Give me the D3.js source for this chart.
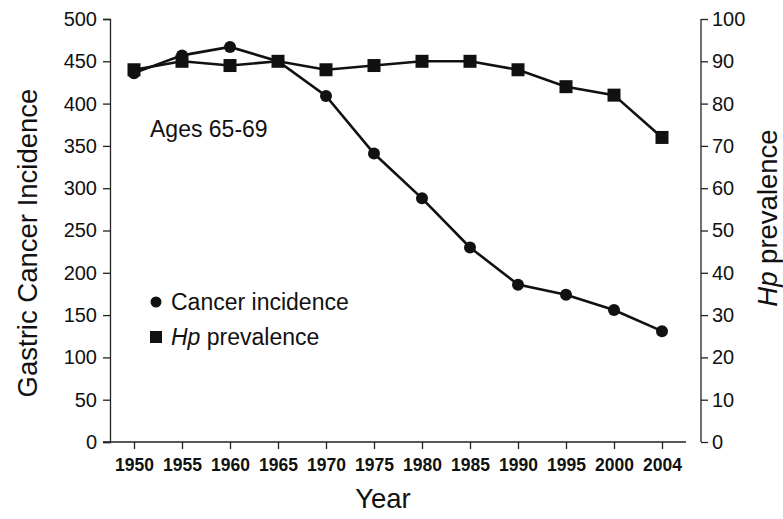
<!DOCTYPE html>
<html>
<head>
<meta charset="utf-8">
<script src="https://cdn.jsdelivr.net/npm/d3@7"></script>
<style>
  body { margin: 0; background: #fff; }
  svg { font-family: "Liberation Sans", Arial, sans-serif; }
  .domain, .tick line { stroke: #222; stroke-width: 1.3; }
</style>
</head>
<body>
<div id="chart"></div>
<script>
// data
var years = ["1950","1955","1960","1965","1970","1975","1980","1985","1990","1995","2000","2004"];
var incidence = [436, 457, 467, 450, 409, 341, 288, 230, 186, 174, 156, 131];
var hpPrev = [88, 90, 89, 90, 88, 89, 90, 90, 88, 84, 82, 72];
var leftTicks = d3.range(0, 501, 50);
var rightTicks = d3.range(0, 101, 10);

var W = 783, H = 519;
var svg = d3.select("#chart").append("svg")
    .attr("width", W).attr("height", H);

var x = d3.scalePoint().domain(years).range([110, 686]).padding(0.5);
var yL = d3.scaleLinear().domain([0, 500]).range([442, 19]);
var yR = d3.scaleLinear().domain([0, 100]).range([442, 19]);

// x axis (starts a bit left of the y axis, like the original)
var xAxis = svg.append("g")
    .attr("transform", "translate(0,442)")
    .call(d3.axisBottom(x).tickSizeOuter(0).tickSize(7).tickPadding(10));
xAxis.select(".domain").attr("d", "M103,0H686");
xAxis.selectAll("text")
    .attr("font-size", 17.5).attr("font-weight", "bold").attr("fill", "#111");

var lAxis = svg.append("g")
    .attr("transform", "translate(110,0)")
    .call(d3.axisLeft(yL).tickValues(leftTicks).tickSizeOuter(0).tickSize(7).tickPadding(6));
lAxis.selectAll("text").attr("font-size", 20).attr("fill", "#111");

var rAxis = svg.append("g")
    .attr("transform", "translate(701,0)")
    .call(d3.axisRight(yR).tickValues(rightTicks).tickSizeOuter(0).tickSize(7).tickPadding(4));
rAxis.selectAll("text").attr("font-size", 20).attr("fill", "#111");
rAxis.select(".domain").attr("d", "M0,442V19");

// lines
var lineL = d3.line().x(function(d, i) { return x(years[i]); }).y(function(d) { return yL(d); });
var lineR = d3.line().x(function(d, i) { return x(years[i]); }).y(function(d) { return yR(d); });

svg.append("path").datum(hpPrev)
    .attr("d", lineR).attr("fill", "none").attr("stroke", "#111").attr("stroke-width", 2.6);
svg.append("path").datum(incidence)
    .attr("d", lineL).attr("fill", "none").attr("stroke", "#111").attr("stroke-width", 2.6);

svg.selectAll(".sq").data(hpPrev).enter().append("rect")
    .attr("x", function(d, i) { return x(years[i]) - 6.5; })
    .attr("y", function(d) { return yR(d) - 6.5; })
    .attr("width", 13).attr("height", 13).attr("fill", "#111");

svg.selectAll(".dot").data(incidence).enter().append("circle")
    .attr("cx", function(d, i) { return x(years[i]); })
    .attr("cy", function(d) { return yL(d); })
    .attr("r", 6).attr("fill", "#111");

// text
svg.append("text").attr("x", 150).attr("y", 137)
    .attr("font-size", 23).attr("fill", "#111").text("Ages 65-69");

svg.append("circle").attr("cx", 156).attr("cy", 302).attr("r", 5.5).attr("fill", "#111");
svg.append("text").attr("x", 171).attr("y", 310)
    .attr("font-size", 23).attr("fill", "#111").text("Cancer incidence");
svg.append("rect").attr("x", 150).attr("y", 331).attr("width", 12).attr("height", 12).attr("fill", "#111");
var lg2 = svg.append("text").attr("x", 171).attr("y", 345)
    .attr("font-size", 23).attr("fill", "#111");
lg2.append("tspan").attr("font-style", "italic").text("Hp");
lg2.append("tspan").text(" prevalence");

svg.append("text")
    .attr("transform", "translate(37,243) rotate(-90)")
    .attr("text-anchor", "middle").attr("font-size", 27.5).attr("fill", "#111")
    .text("Gastric Cancer Incidence");

var rt = svg.append("text")
    .attr("transform", "translate(777,218) rotate(-90)")
    .attr("text-anchor", "middle").attr("font-size", 27.5).attr("fill", "#111");
rt.append("tspan").attr("font-style", "italic").text("Hp");
rt.append("tspan").text(" prevalence");

svg.append("text").attr("x", 383).attr("y", 508)
    .attr("text-anchor", "middle").attr("font-size", 27.5).attr("fill", "#111")
    .text("Year");
</script>
</body>
</html>
